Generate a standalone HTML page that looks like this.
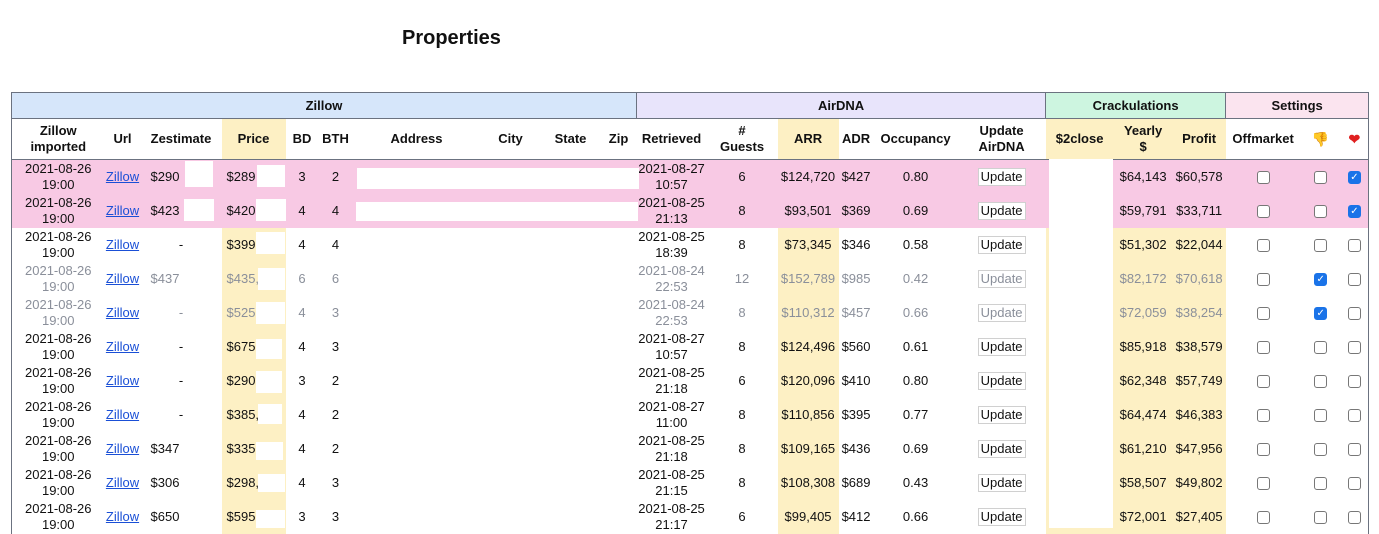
<!DOCTYPE html>
<html><head><meta charset="utf-8"><style>
body{margin:0;background:#fff;font-family:"Liberation Sans",Arial,sans-serif;font-size:13px;color:#111;width:1379px;height:534px;overflow:hidden;position:relative}
h1{position:absolute;left:402px;top:27px;margin:0;font-size:20px;font-weight:bold}
table{position:absolute;left:11px;top:92px;border-collapse:collapse;table-layout:fixed;width:1358px}
td,th{padding:0;text-align:center;overflow:hidden;white-space:nowrap}
tr.g th{height:25px;border:1px solid #6b7280;font-size:13px}
tr.h th{height:40px;line-height:16px;border-bottom:1px solid #6b7280;white-space:normal}
tr.r td{height:34px;line-height:16px}
.y{background:#fdf0c4}
.pk td{background:#f8c9e4}
.gr td{color:#8a8f9a}
a{color:#1a4fd6;text-decoration:underline}
.l{text-align:left;padding-left:5px}
.z{text-align:left;padding-left:10px}
.cb{display:inline-block;width:11px;height:11px;border:1.5px solid #777;border-radius:3px;background:#fff;vertical-align:middle}
.ck{background:#1a73e8;border-color:#1a73e8;color:#fff;font-size:10px;line-height:11px;text-align:center}
.btn{display:inline-block;border:1px solid #d0d0d0;padding:0 2px;line-height:16px;background:#fff}
.gr .btn{color:#8a8f9a}
.w{position:absolute;background:#fff}
table tr.r td:first-child{border-left:1px solid #6b7280}
table tr td:last-child,table tr.h th:last-child{border-right:1px solid #6b7280}
tr.h th:first-child{border-left:1px solid #6b7280}
</style></head><body>
<h1>Properties</h1>
<table>
<colgroup><col style="width:93px"><col style="width:36px"><col style="width:81px"><col style="width:64px"><col style="width:33px"><col style="width:34px"><col style="width:128px"><col style="width:60px"><col style="width:60px"><col style="width:36px"><col style="width:70px"><col style="width:71px"><col style="width:61px"><col style="width:35px"><col style="width:84px"><col style="width:88px"><col style="width:68px"><col style="width:59px"><col style="width:53px"><col style="width:75px"><col style="width:40px"><col style="width:28px"></colgroup>
<tr class="g"><th colspan="10" style="background:#d6e6fa">Zillow</th><th colspan="6" style="background:#e8e4fb">AirDNA</th><th colspan="3" style="background:#cdf5e0">Crackulations</th><th colspan="3" style="background:#fbe4ef">Settings</th></tr>
<tr class="h"><th>Zillow<br>imported</th><th>Url</th><th>Zestimate</th><th class="y">Price</th><th>BD</th><th>BTH</th><th>Address</th><th>City</th><th>State</th><th>Zip</th><th>Retrieved</th><th>#<br>Guests</th><th class="y">ARR</th><th>ADR</th><th>Occupancy</th><th>Update<br>AirDNA</th><th class="y">$2close</th><th class="y">Yearly<br>$</th><th class="y">Profit</th><th>Offmarket</th><th style="font-size:14px">👎</th><th style="font-size:14px;color:#e02020">❤</th></tr>
<tr class="r pk"><td>2021-08-26<br>19:00</td><td><a>Zillow</a></td><td class="z">$290</td><td class="l">$289</td><td>3</td><td>2</td><td></td><td></td><td></td><td></td><td>2021-08-27<br>10:57</td><td>6</td><td>$124,720</td><td>$427</td><td>0.80</td><td><span class="btn">Update</span></td><td></td><td>$64,143</td><td>$60,578</td><td><span class="cb"></span></td><td><span class="cb"></span></td><td><span class="cb ck">✓</span></td></tr>
<tr class="r pk"><td>2021-08-26<br>19:00</td><td><a>Zillow</a></td><td class="z">$423</td><td class="l">$420</td><td>4</td><td>4</td><td></td><td></td><td></td><td></td><td>2021-08-25<br>21:13</td><td>8</td><td>$93,501</td><td>$369</td><td>0.69</td><td><span class="btn">Update</span></td><td></td><td>$59,791</td><td>$33,711</td><td><span class="cb"></span></td><td><span class="cb"></span></td><td><span class="cb ck">✓</span></td></tr>
<tr class="r"><td>2021-08-26<br>19:00</td><td><a>Zillow</a></td><td>-</td><td class="l y">$399</td><td>4</td><td>4</td><td></td><td></td><td></td><td></td><td>2021-08-25<br>18:39</td><td>8</td><td class="y">$73,345</td><td>$346</td><td>0.58</td><td><span class="btn">Update</span></td><td class="y"></td><td class="y">$51,302</td><td class="y">$22,044</td><td><span class="cb"></span></td><td><span class="cb"></span></td><td><span class="cb"></span></td></tr>
<tr class="r gr"><td>2021-08-26<br>19:00</td><td><a>Zillow</a></td><td class="z">$437</td><td class="l y">$435,</td><td>6</td><td>6</td><td></td><td></td><td></td><td></td><td>2021-08-24<br>22:53</td><td>12</td><td class="y">$152,789</td><td>$985</td><td>0.42</td><td><span class="btn">Update</span></td><td class="y"></td><td class="y">$82,172</td><td class="y">$70,618</td><td><span class="cb"></span></td><td><span class="cb ck">✓</span></td><td><span class="cb"></span></td></tr>
<tr class="r gr"><td>2021-08-26<br>19:00</td><td><a>Zillow</a></td><td>-</td><td class="l y">$525,</td><td>4</td><td>3</td><td></td><td></td><td></td><td></td><td>2021-08-24<br>22:53</td><td>8</td><td class="y">$110,312</td><td>$457</td><td>0.66</td><td><span class="btn">Update</span></td><td class="y"></td><td class="y">$72,059</td><td class="y">$38,254</td><td><span class="cb"></span></td><td><span class="cb ck">✓</span></td><td><span class="cb"></span></td></tr>
<tr class="r"><td>2021-08-26<br>19:00</td><td><a>Zillow</a></td><td>-</td><td class="l y">$675,</td><td>4</td><td>3</td><td></td><td></td><td></td><td></td><td>2021-08-27<br>10:57</td><td>8</td><td class="y">$124,496</td><td>$560</td><td>0.61</td><td><span class="btn">Update</span></td><td class="y"></td><td class="y">$85,918</td><td class="y">$38,579</td><td><span class="cb"></span></td><td><span class="cb"></span></td><td><span class="cb"></span></td></tr>
<tr class="r"><td>2021-08-26<br>19:00</td><td><a>Zillow</a></td><td>-</td><td class="l y">$290</td><td>3</td><td>2</td><td></td><td></td><td></td><td></td><td>2021-08-25<br>21:18</td><td>6</td><td class="y">$120,096</td><td>$410</td><td>0.80</td><td><span class="btn">Update</span></td><td class="y"></td><td class="y">$62,348</td><td class="y">$57,749</td><td><span class="cb"></span></td><td><span class="cb"></span></td><td><span class="cb"></span></td></tr>
<tr class="r"><td>2021-08-26<br>19:00</td><td><a>Zillow</a></td><td>-</td><td class="l y">$385,</td><td>4</td><td>2</td><td></td><td></td><td></td><td></td><td>2021-08-27<br>11:00</td><td>8</td><td class="y">$110,856</td><td>$395</td><td>0.77</td><td><span class="btn">Update</span></td><td class="y"></td><td class="y">$64,474</td><td class="y">$46,383</td><td><span class="cb"></span></td><td><span class="cb"></span></td><td><span class="cb"></span></td></tr>
<tr class="r"><td>2021-08-26<br>19:00</td><td><a>Zillow</a></td><td class="z">$347</td><td class="l y">$335</td><td>4</td><td>2</td><td></td><td></td><td></td><td></td><td>2021-08-25<br>21:18</td><td>8</td><td class="y">$109,165</td><td>$436</td><td>0.69</td><td><span class="btn">Update</span></td><td class="y"></td><td class="y">$61,210</td><td class="y">$47,956</td><td><span class="cb"></span></td><td><span class="cb"></span></td><td><span class="cb"></span></td></tr>
<tr class="r"><td>2021-08-26<br>19:00</td><td><a>Zillow</a></td><td class="z">$306</td><td class="l y">$298,</td><td>4</td><td>3</td><td></td><td></td><td></td><td></td><td>2021-08-25<br>21:15</td><td>8</td><td class="y">$108,308</td><td>$689</td><td>0.43</td><td><span class="btn">Update</span></td><td class="y"></td><td class="y">$58,507</td><td class="y">$49,802</td><td><span class="cb"></span></td><td><span class="cb"></span></td><td><span class="cb"></span></td></tr>
<tr class="r"><td>2021-08-26<br>19:00</td><td><a>Zillow</a></td><td class="z">$650</td><td class="l y">$595</td><td>3</td><td>3</td><td></td><td></td><td></td><td></td><td>2021-08-25<br>21:17</td><td>6</td><td class="y">$99,405</td><td>$412</td><td>0.66</td><td><span class="btn">Update</span></td><td class="y"></td><td class="y">$72,001</td><td class="y">$27,405</td><td><span class="cb"></span></td><td><span class="cb"></span></td><td><span class="cb"></span></td></tr>
</table>
<div class="w" style="left:185px;top:161px;width:28px;height:26px"></div>
<div class="w" style="left:257px;top:165px;width:28px;height:22px"></div>
<div class="w" style="left:184px;top:199px;width:30px;height:22px"></div>
<div class="w" style="left:256px;top:199px;width:30px;height:22px"></div>
<div class="w" style="left:357px;top:168px;width:282px;height:21px"></div>
<div class="w" style="left:356px;top:202px;width:282px;height:19px"></div>
<div class="w" style="left:256px;top:232px;width:29px;height:22px"></div>
<div class="w" style="left:183px;top:266px;width:14px;height:26px"></div>
<div class="w" style="left:258px;top:268px;width:27px;height:22px"></div>
<div class="w" style="left:256px;top:302px;width:29px;height:22px"></div>
<div class="w" style="left:256px;top:339px;width:26px;height:20px"></div>
<div class="w" style="left:256px;top:371px;width:26px;height:22px"></div>
<div class="w" style="left:258px;top:404px;width:24px;height:20px"></div>
<div class="w" style="left:182px;top:436px;width:14px;height:26px"></div>
<div class="w" style="left:256px;top:442px;width:27px;height:18px"></div>
<div class="w" style="left:186px;top:470px;width:14px;height:26px"></div>
<div class="w" style="left:258px;top:474px;width:27px;height:18px"></div>
<div class="w" style="left:182px;top:504px;width:14px;height:26px"></div>
<div class="w" style="left:256px;top:510px;width:29px;height:18px"></div>
<div class="w" style="left:1049px;top:159px;width:64px;height:369px"></div>
</body></html>
